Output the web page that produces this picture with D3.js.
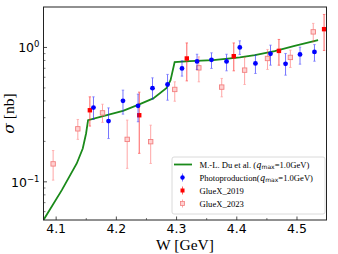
<!DOCTYPE html>
<html>
<head>
<meta charset="utf-8">
<script src="https://cdn.jsdelivr.net/npm/d3@7"></script>
<style>
  body { margin: 0; background: #fff; }
  svg { display: block; }
</style>
</head>
<body>
<script>
// model curve (M.-L. Du et al.)
var curveW = [4.0789, 4.1094, 4.1342, 4.1442, 4.1497, 4.153, 4.1779, 4.211, 4.239, 4.2613, 4.2835, 4.290, 4.2968, 4.322, 4.361, 4.405, 4.430, 4.463, 4.496, 4.535]
var curveS = [0.0519, 0.0867, 0.137, 0.177, 0.229, 0.288, 0.308, 0.337, 0.379, 0.418, 0.500, 0.571, 0.778, 0.791, 0.804, 0.843, 0.876, 0.939, 1.028, 1.133]

// photoproduction points
var photoW = [4.162, 4.187, 4.211, 4.236, 4.260, 4.285, 4.309, 4.334, 4.358, 4.383, 4.405, 4.431, 4.456, 4.481, 4.505, 4.529]
var photoS = [0.357, 0.283, 0.401, 0.368, 0.498, 0.530, 0.698, 0.787, 0.809, 0.787, 1.00, 0.760, 0.897, 0.755, 0.887, 0.927]
var photoHi = [0.429, 0.355, 0.481, 0.449, 0.594, 0.63, 0.795, 0.89, 0.912, 0.89, 1.12, 0.876, 1.04, 0.902, 1.005, 1.05]
var photoLo = [0.291, 0.210, 0.319, 0.28, 0.413, 0.405, 0.612, 0.686, 0.698, 0.67, 0.887, 0.64, 0.738, 0.622, 0.751, 0.79]

// GlueX 2019
var g19W = [4.156, 4.238, 4.317, 4.395, 4.470, 4.545]
var g19S = [0.341, 0.313, 0.828, 0.861, 0.943, 1.368]
var g19Hi = [0.429, 0.465, 1.08, 1.08, 1.147, 1.76]
var g19Lo = [0.26, 0.163, 0.564, 0.67, 0.738, 0.95]

// GlueX 2023
var g23W = [4.095, 4.136, 4.177, 4.218, 4.257, 4.297, 4.337, 4.375, 4.413, 4.451, 4.489, 4.527]
var g23S = [0.136, 0.248, 0.326, 0.207, 0.199, 0.487, 0.705, 0.507, 0.678, 0.828, 0.843, 1.306]
var g23Hi = [0.171, 0.291, 0.378, 0.288, 0.264, 0.555, 0.851, 0.588, 0.843, 0.966, 0.955, 1.51]
var g23Lo = [0.103, 0.207, 0.277, 0.126, 0.137, 0.398, 0.555, 0.429, 0.53, 0.686, 0.71, 1.1]

var xTicks = [4.1, 4.2, 4.3, 4.4, 4.5]
var xMinor = [4.15, 4.25, 4.35, 4.45]
var yTicks = [0.1, 1]
var yMinor = [0.06, 0.07, 0.08, 0.09, 0.2, 0.3, 0.4, 0.5, 0.6, 0.7, 0.8, 0.9]

var W = 338, H = 254
var L = 43.5, R = 326.5, T = 7, B = 220

var svg = d3.select('body').append('svg')
  .attr('width', W).attr('height', H)

var x = d3.scaleLinear().domain([4.079, 4.549]).range([L, R])
var y = d3.scaleLog().domain([0.052, 2.0]).range([B, T])

function zip(ws, ss, hi, lo) {
  return ws.map(function(w, i) { return { w: w, s: ss[i], hi: hi ? hi[i] : null, lo: lo ? lo[i] : null } })
}

var defs = svg.append('defs')
defs.append('clipPath').attr('id', 'clip')
  .append('rect').attr('x', L).attr('y', T).attr('width', R - L).attr('height', B - T)

var plot = svg.append('g').attr('clip-path', 'url(#clip)')

// curve
var line = d3.line().x(function(d) { return x(d.w) }).y(function(d) { return y(d.s) })
plot.append('path')
  .datum(zip(curveW, curveS))
  .attr('d', line)
  .attr('fill', 'none')
  .attr('stroke', '#1a8a1a')
  .attr('stroke-width', 1.8)

function errorbars(g, data, col, op, cap) {
  var eb = g.append('g').attr('opacity', op)
  eb.selectAll('line.v').data(data).enter().append('line')
    .attr('x1', function(d) { return x(d.w) }).attr('x2', function(d) { return x(d.w) })
    .attr('y1', function(d) { return y(d.hi) }).attr('y2', function(d) { return y(d.lo) })
    .attr('stroke', col).attr('stroke-width', 1)
  ;['hi', 'lo'].forEach(function(k) {
    eb.selectAll('line.' + k).data(data).enter().append('line')
      .attr('x1', function(d) { return x(d.w) - cap }).attr('x2', function(d) { return x(d.w) + cap })
      .attr('y1', function(d) { return y(d[k]) }).attr('y2', function(d) { return y(d[k]) })
      .attr('stroke', col).attr('stroke-width', 0.8)
  })
}

// GlueX 2023 (light)
var g23 = zip(g23W, g23S, g23Hi, g23Lo)
var gg23 = plot.append('g')
errorbars(gg23, g23, '#ff3b3b', 0.45, 1.2)
gg23.selectAll('rect').data(g23).enter().append('rect')
  .attr('x', function(d) { return x(d.w) - 2.2 }).attr('y', function(d) { return y(d.s) - 2.2 })
  .attr('width', 4.4).attr('height', 4.4)
  .attr('fill', '#ffd0d0').attr('stroke', '#f28080').attr('stroke-width', 0.9)

// GlueX 2019
var g19 = zip(g19W, g19S, g19Hi, g19Lo)
var gg19 = plot.append('g')
errorbars(gg19, g19, '#ff2020', 0.7, 1.2)
gg19.selectAll('rect').data(g19).enter().append('rect')
  .attr('x', function(d) { return x(d.w) - 2.2 }).attr('y', function(d) { return y(d.s) - 2.2 })
  .attr('width', 4.4).attr('height', 4.4)
  .attr('fill', '#ff0000')

// photoproduction
var ph = zip(photoW, photoS, photoHi, photoLo)
var gph = plot.append('g')
errorbars(gph, ph, '#1a1aff', 0.6, 1.2)
gph.selectAll('circle').data(ph).enter().append('circle')
  .attr('cx', function(d) { return x(d.w) }).attr('cy', function(d) { return y(d.s) })
  .attr('r', 2.4).attr('fill', '#0000ff')

// frame
svg.append('rect').attr('x', L).attr('y', T).attr('width', R - L).attr('height', B - T)
  .attr('fill', 'none').attr('stroke', '#222').attr('stroke-width', 1)

// x ticks (inward)
var xa = svg.append('g')
xa.selectAll('line.maj').data(xTicks).enter().append('line')
  .attr('x1', function(d) { return x(d) }).attr('x2', function(d) { return x(d) })
  .attr('y1', B).attr('y2', B - 3.5).attr('stroke', '#222').attr('stroke-width', 0.8)
xa.selectAll('line.min').data(xMinor).enter().append('line')
  .attr('x1', function(d) { return x(d) }).attr('x2', function(d) { return x(d) })
  .attr('y1', B).attr('y2', B - 2).attr('stroke', '#222').attr('stroke-width', 0.6)
xa.selectAll('text').data(xTicks).enter().append('text')
  .attr('x', function(d) { return x(d) }).attr('y', B + 13)
  .attr('text-anchor', 'middle')
  .attr('font-family', 'DejaVu Sans').attr('font-size', 12.5)
  .text(function(d) { return d3.format('.1f')(d) })

// y ticks (inward)
var ya = svg.append('g')
ya.selectAll('line.maj').data(yTicks).enter().append('line')
  .attr('x1', L).attr('x2', L + 3.5)
  .attr('y1', function(d) { return y(d) }).attr('y2', function(d) { return y(d) })
  .attr('stroke', '#222').attr('stroke-width', 0.8)
ya.selectAll('line.min').data(yMinor).enter().append('line')
  .attr('x1', L).attr('x2', L + 2)
  .attr('y1', function(d) { return y(d) }).attr('y2', function(d) { return y(d) })
  .attr('stroke', '#222').attr('stroke-width', 0.6)
var yl = ya.selectAll('text').data(yTicks).enter().append('text')
  .attr('x', L - 4).attr('y', function(d) { return y(d) + 5 })
  .attr('text-anchor', 'end')
  .attr('font-family', 'DejaVu Sans').attr('font-size', 12.5)
yl.append('tspan').text('10')
yl.append('tspan').attr('dy', -5).attr('font-size', 8.5)
  .text(function(d) { return d === 1 ? '0' : '\u22121' })

// axis labels
svg.append('text').attr('x', (L + R) / 2).attr('y', 250)
  .attr('text-anchor', 'middle')
  .attr('font-family', 'Liberation Serif').attr('font-size', 15.5)
  .text('W [GeV]')
var ylab = svg.append('text')
  .attr('transform', 'translate(14,' + ((T + B) / 2) + ') rotate(-90)')
  .attr('text-anchor', 'middle')
  .attr('font-family', 'Liberation Serif').attr('font-size', 15.5)
ylab.append('tspan').attr('font-style', 'italic').attr('font-family', 'DejaVu Serif').text('\u03c3')
ylab.append('tspan').text(' [nb]')

// legend
var lg = svg.append('g')
lg.append('rect').attr('x', 172).attr('y', 157).attr('width', 153).attr('height', 57)
  .attr('rx', 2).attr('fill', '#fff').attr('fill-opacity', 0.8)
  .attr('stroke', '#d0d0d0').attr('stroke-width', 0.8)

var rows = [164.5, 177.5, 190.5, 203.5]
var hx = 182.5, tx = 199.5, fs = 8.6

lg.append('line').attr('x1', 174).attr('x2', 192).attr('y1', rows[0]).attr('y2', rows[0])
  .attr('stroke', '#1a8a1a').attr('stroke-width', 1.8)

// photoproduction handle
lg.append('line').attr('x1', hx).attr('x2', hx).attr('y1', rows[1] - 4).attr('y2', rows[1] + 4)
  .attr('stroke', '#1a1aff').attr('stroke-opacity', 0.6)
lg.append('circle').attr('cx', hx).attr('cy', rows[1]).attr('r', 2.2).attr('fill', '#0000ff')
// 2019 handle
lg.append('line').attr('x1', hx).attr('x2', hx).attr('y1', rows[2] - 4).attr('y2', rows[2] + 4)
  .attr('stroke', '#ff2020').attr('stroke-opacity', 0.7)
lg.append('rect').attr('x', hx - 2).attr('y', rows[2] - 2).attr('width', 4).attr('height', 4).attr('fill', '#ff0000')
// 2023 handle
lg.append('line').attr('x1', hx).attr('x2', hx).attr('y1', rows[3] - 4).attr('y2', rows[3] + 4)
  .attr('stroke', '#ff3b3b').attr('stroke-opacity', 0.45)
lg.append('rect').attr('x', hx - 2).attr('y', rows[3] - 2).attr('width', 4).attr('height', 4)
  .attr('fill', '#ffd0d0').attr('stroke', '#f28080').attr('stroke-width', 0.8)

function qmax(t, pre, post) {
  t.append('tspan').text(pre)
  t.append('tspan').attr('font-style', 'italic').attr('font-family', 'DejaVu Serif').text('q')
  t.append('tspan').attr('font-size', fs * 0.7).attr('dy', 1.8).attr('font-family', 'DejaVu Sans').text('max')
  t.append('tspan').attr('dy', -1.8).text(post)
}
function ltext(i) {
  return lg.append('text').attr('x', tx).attr('y', rows[i] + 3)
    .attr('font-family', 'Liberation Serif').attr('font-size', fs)
}
qmax(ltext(0), 'M.-L. Du et al. (', '=1.0GeV)')
qmax(ltext(1), 'Photoproduction(', '=1.0GeV)')
ltext(2).text('GlueX_2019')
ltext(3).text('GlueX_2023')
</script>
</body>
</html>
